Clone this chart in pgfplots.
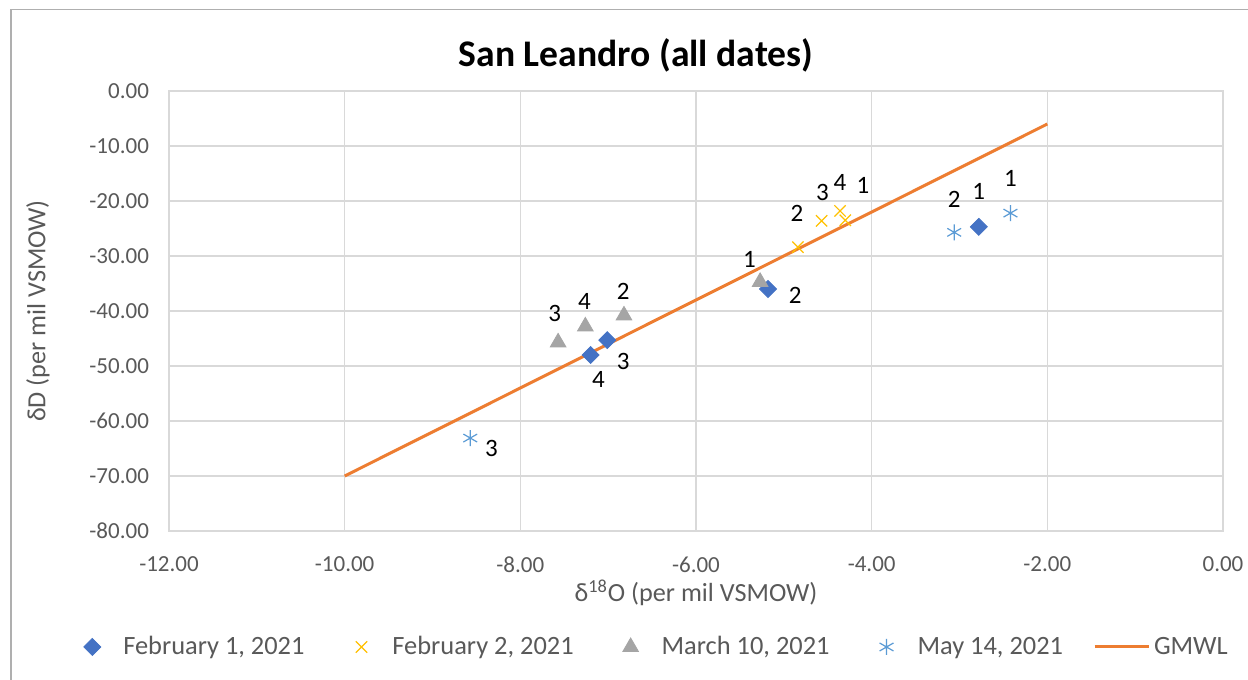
\documentclass[border=0pt]{standalone}
\usepackage{pgfplots}
\pgfplotsset{compat=1.18}
\usepackage{fontspec}
\setmainfont{Carlito}
\definecolor{cFebA}{HTML}{4472C4}
\definecolor{cFebB}{HTML}{FFC000}
\definecolor{cMar}{HTML}{A5A5A5}
\definecolor{cMay}{HTML}{5B9BD5}
\definecolor{cGM}{HTML}{ED7D31}
\definecolor{cGrid}{HTML}{D9D9D9}
\definecolor{cTxt}{HTML}{595959}
\pgfplotsset{
  mylegmark/.style={legend image code/.code={\path[draw=none,fill=none] (0pt,-1pt) rectangle (27pt,1pt); \draw[##1] plot coordinates {(13.5pt,0pt)};}},
  mylegline/.style={legend image code/.code={\draw[##1] (0pt,0pt) -- (27pt,0pt);}},
}
\pgfplotstableread{
x y
-2.78 -24.7
-5.18 -36.0
-7.01 -45.3
-7.20 -48.0
}\febA
\pgfplotstableread{
x y
-4.30 -23.5
-4.84 -28.4
-4.57 -23.6
-4.36 -21.8
}\febB
\pgfplotstableread{
x y
-5.27 -34.7
-6.82 -40.8
-7.57 -45.7
-7.26 -42.8
}\mar
\pgfplotstableread{
x y
-2.42 -22.2
-3.06 -25.7
-8.57 -63.1
}\may
\pgfplotstableread{
x y l
-2.78 -18.3 1
-4.87 -37.1 2
-6.83 -49.2 3
-7.11 -52.5 4
-4.10 -17.1 1
-4.85 -22.2 2
-4.56 -18.5 3
-4.36 -16.7 4
-5.39 -30.7 1
-6.83 -36.5 2
-7.61 -40.4 3
-7.27 -38.3 4
-2.42 -15.9 1
-3.06 -19.7 2
-8.33 -65.0 3
}\labs
\begin{document}
\begin{tikzpicture}
\useasboundingbox (-84.5pt,-74.5pt) rectangle (539.5pt,265.5pt);
\draw[color={rgb,255:red,175;green,175;blue,175}, line width=0.8pt] (-79pt,-80pt) -- (-79pt,260.75pt) -- (545pt,260.75pt);
\begin{axis}[
  scale only axis, width=527pt, height=220pt,
  xmin=-12, xmax=0, ymin=-80, ymax=0,
  xtick={-12,-10,-8,-6,-4,-2,0},
  xticklabels={-12.00,-10.00,-8.00,-6.00,-4.00,-2.00,0.00},
  ytick={-80,-70,-60,-50,-40,-30,-20,-10,0},
  yticklabels={-80.00,-70.00,-60.00,-50.00,-40.00,-30.00,-20.00,-10.00,0.00},
  grid=major, major grid style={cGrid, line width=0.75pt},
  axis line style={cGrid, line width=0.75pt},
  major tick length=0pt,
  tick label style={font=\fontsize{11.5}{13}\selectfont, text=cTxt},
  yticklabel style={xshift=-6.5pt},
  xticklabel style={yshift=-9.5pt},
  xlabel={δ\textsuperscript{18}O (per mil VSMOW)},
  ylabel={δD (per mil VSMOW)},
  every axis y label/.style={at={(-65.5pt,110pt)}, rotate=90, anchor=center, font=\fontsize{13.1}{15}\selectfont, text=cTxt},
  every axis x label/.style={at={(263.5pt,-31pt)}, anchor=center, font=\fontsize{13.1}{15}\selectfont, text=cTxt},
  legend columns=5,
  legend style={at={(0.455,-0.2636)}, anchor=center, draw=none, font=\fontsize{13.2}{15}\selectfont, text=cTxt,
    /tikz/every even column/.append style={column sep=13pt},
    nodes={inner xsep=2pt}},
  clip=false,
]
\addplot[only marks, mark=square*, mark options={rotate=45, fill=cFebA, draw=cFebA}, mark size=3pt, mylegmark] table {\febA};
\addlegendentry{February 1, 2021}
\addplot[only marks, mark=x, mark options={draw=cFebB, line width=0.6pt}, mark size=4pt, mylegmark] table {\febB};
\addlegendentry{February 2, 2021}
\addplot[only marks, mark=triangle*, mark options={fill=cMar, draw=cMar}, mark size=4.5pt, mylegmark] table {\mar};
\addlegendentry{March 10, 2021}
\addplot[only marks, mark=asterisk, mark options={draw=cMay, line width=0.6pt}, mark size=4pt, mylegmark] table {\may};
\addlegendentry{May 14, 2021}
\addplot[cGM, line width=1.5pt, mark=none, mylegline] coordinates {(-10,-70) (-2,-6)};
\addlegendentry{GMWL}
\addplot[draw=none, mark=none, forget plot, nodes near coords, point meta=explicit symbolic,
  every node near coord/.style={anchor=center, font=\fontsize{12.5}{14}\selectfont, text=black, inner sep=0pt}]
  table[meta=l] {\labs};
\end{axis}
\node[font=\bfseries\fontsize{18.8}{22}\selectfont, text=black] at (233.5pt,238pt) {San Leandro (all dates)};
\end{tikzpicture}
\end{document}
